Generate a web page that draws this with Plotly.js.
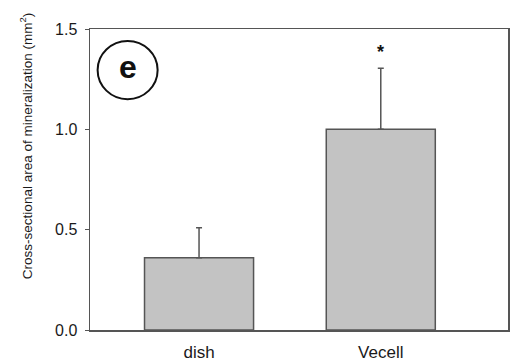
<!DOCTYPE html>
<html>
<head>
<meta charset="utf-8">
<script src="https://cdn.plot.ly/plotly-3.0.1.min.js"></script>
<style>html,body{margin:0;padding:0;background:#fff;}#chart{width:510px;height:363px;}</style>
</head>
<body>
<div id="chart"></div>
<script>
var categories = ['dish', 'Vecell'];
var values = [0.36, 1.0];
var errors = [0.15, 0.305];
var errorsMinus = [0, 0];
var yTicks = [0, 0.5, 1.0, 1.5];
var yTickLabels = ['0.0', '0.5', '1.0', '1.5'];
var yTitle = 'Cross-sectional area of mineralization (mm<sup>2</sup>)';

var trace = {
  type: 'bar',
  x: categories,
  y: values,
  width: 0.6,
  marker: {color: '#c3c3c3', line: {color: '#555555', width: 1.5}},
  error_y: {type: 'data', symmetric: false, array: errors, arrayminus: errorsMinus,
            color: '#555555', thickness: 1.5, width: 3},
  hoverinfo: 'none'
};

var layout = {
  width: 510, height: 363,
  margin: {l: 90, r: 2, t: 29, b: 33},
  paper_bgcolor: '#ffffff', plot_bgcolor: '#ffffff',
  font: {family: 'Liberation Sans, Arial, sans-serif', color: '#1a1a1a'},
  showlegend: false,
  xaxis: {
    type: 'category', range: [-0.6, 1.7],
    showline: true, linecolor: '#555555', linewidth: 1.5, mirror: true,
    ticks: '', showgrid: false, zeroline: false,
    ticklabelstandoff: 6,
    tickfont: {size: 17, color: '#1a1a1a'}
  },
  yaxis: {
    range: [0, 1.5], tickvals: yTicks, ticktext: yTickLabels,
    showline: true, linecolor: '#555555', linewidth: 1.5, mirror: 'ticks',
    ticks: 'outside', ticklen: 4, tickcolor: '#555555', tickwidth: 1,
    ticklabelstandoff: 4,
    showgrid: false, zeroline: false,
    tickfont: {size: 16, color: '#1a1a1a'}
  },
  shapes: [{
    type: 'circle', xref: 'paper', yref: 'paper',
    x0: 0.0182, x1: 0.1618, y0: 0.767, y1: 0.960,
    line: {color: '#111111', width: 2}
  }],
  annotations: [
    {xref: 'paper', yref: 'paper', x: -0.153, y: 0.611, xanchor: 'center', yanchor: 'middle',
     textangle: -90, text: yTitle, showarrow: false, font: {size: 13.5, color: '#1a1a1a'}},
    {xref: 'paper', yref: 'paper', x: 0.090, y: 0.875, xanchor: 'center', yanchor: 'middle',
     text: '<b>e</b>', showarrow: false, font: {size: 32, color: '#111111'}},
    {x: 'Vecell', y: 1.385, text: '<b>*</b>', showarrow: false, font: {size: 18, color: '#111111'}}
  ]
};

Plotly.newPlot('chart', [trace], layout, {displayModeBar: false, staticPlot: true});
</script>
</body>
</html>
